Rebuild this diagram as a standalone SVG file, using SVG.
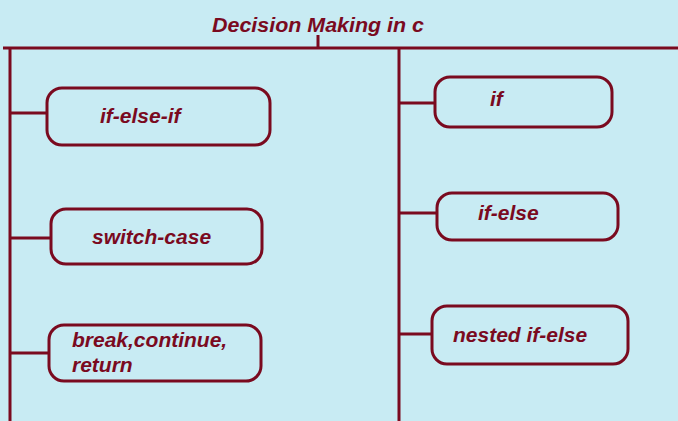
<svg xmlns="http://www.w3.org/2000/svg" width="678" height="421" viewBox="0 0 678 421">
<style>
.ln{stroke:#7a0a1f;stroke-width:3;fill:none}
.box{stroke:#7a0a1f;stroke-width:3;fill:#c8ebf3}
.t{font-family:"Liberation Sans",Arial,sans-serif;font-weight:bold;font-style:italic;font-size:21px;fill:#7a0a1f}
</style>
<rect x="0" y="0" width="678" height="421" fill="#c8ebf3"/>
<g id="title"><text class="t" x="212" y="32" style="font-size:21px" textLength="212" lengthAdjust="spacingAndGlyphs">Decision Making in c</text></g>
<g id="connectors">
<line class="ln" x1="318" y1="35" x2="318" y2="48"/>
<line class="ln" x1="3" y1="48" x2="678" y2="48"/>
<line class="ln" x1="10" y1="48" x2="10" y2="421"/>
<line class="ln" x1="399" y1="48" x2="399" y2="421"/>
<line class="ln" x1="10" y1="113" x2="47" y2="113"/>
<line class="ln" x1="10" y1="238" x2="51" y2="238"/>
<line class="ln" x1="10" y1="353" x2="49" y2="353"/>
<line class="ln" x1="399" y1="103" x2="435" y2="103"/>
<line class="ln" x1="399" y1="213" x2="437" y2="213"/>
<line class="ln" x1="399" y1="334" x2="432" y2="334"/>
</g>
<g id="n-if-else-if"><rect class="box" x="47" y="88" width="223" height="57" rx="15"/><text class="t" x="100" y="123">if-else-if</text></g>
<g id="n-switch-case"><rect class="box" x="51" y="209" width="211" height="55" rx="15"/><text class="t" x="92" y="244">switch-case</text></g>
<g id="n-break"><rect class="box" x="49" y="325" width="212" height="56" rx="15"/><text class="t" x="72" y="347">break,continue,</text><text class="t" x="72" y="372">return</text></g>
<g id="n-if"><rect class="box" x="435" y="77" width="177" height="50" rx="15"/><text class="t" x="490" y="106">if</text></g>
<g id="n-if-else"><rect class="box" x="437" y="193" width="181" height="47" rx="15"/><text class="t" x="478" y="220">if-else</text></g>
<g id="n-nested"><rect class="box" x="432" y="306" width="196" height="58" rx="15"/><text class="t" x="453" y="342">nested if-else</text></g>
</svg>
